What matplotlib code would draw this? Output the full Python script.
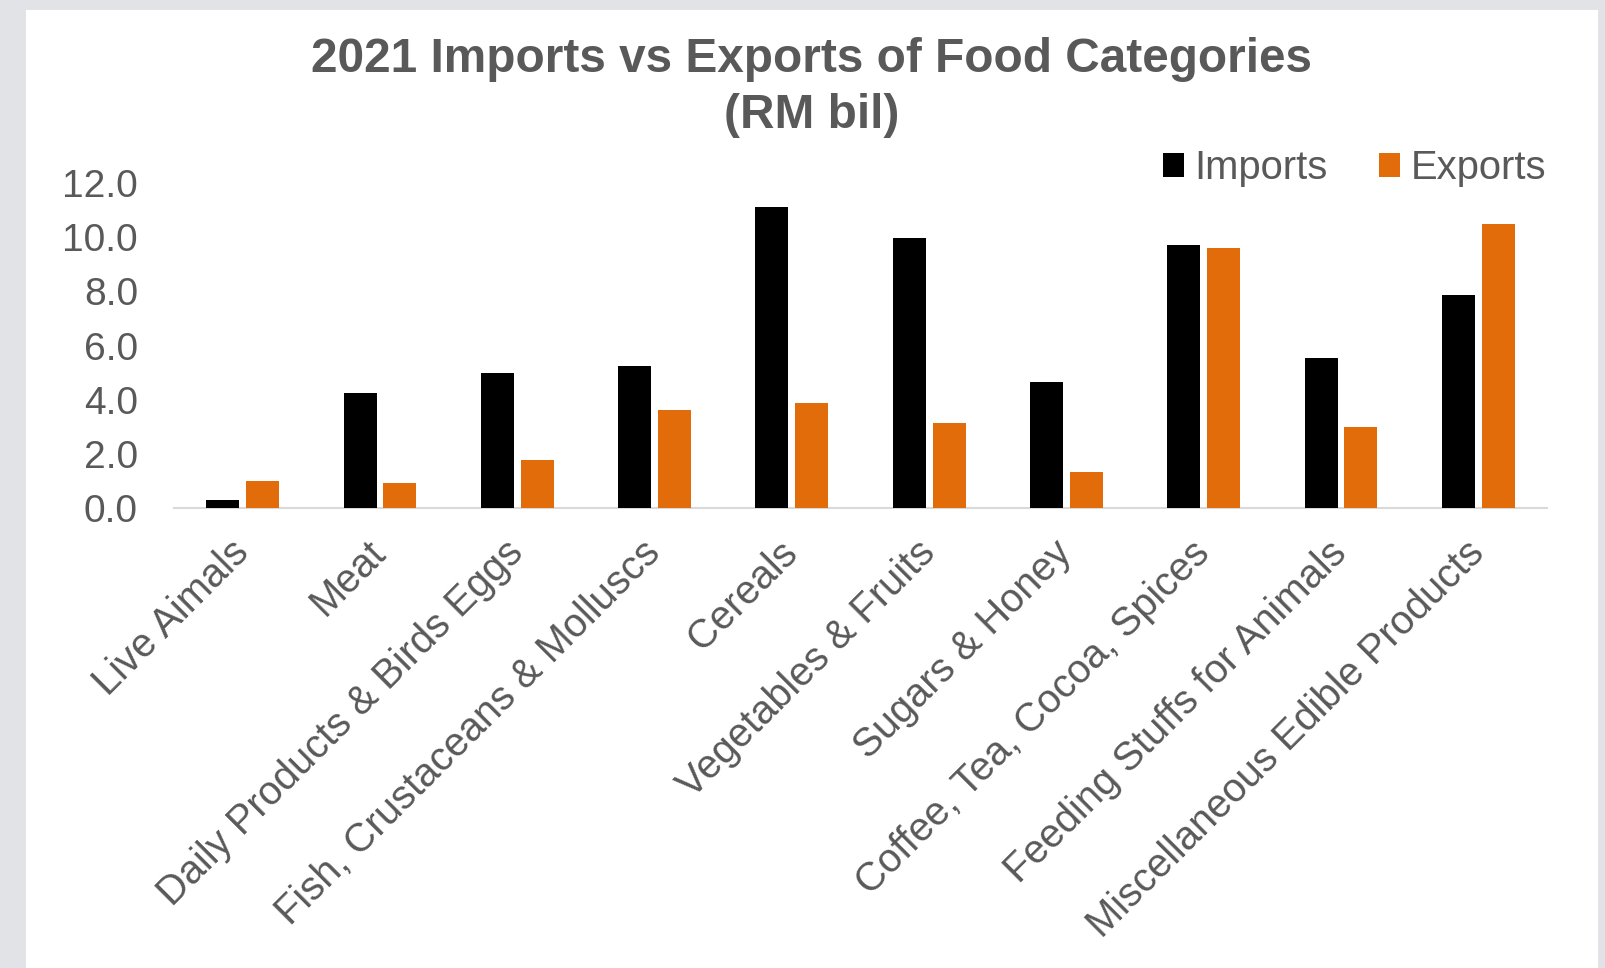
import matplotlib.pyplot as plt
import numpy as np
from matplotlib.patches import Rectangle

categories = ['Live Aimals', 'Meat', 'Daily Products & Birds Eggs',
              'Fish, Crustaceans & Molluscs', 'Cereals', 'Vegetables & Fruits',
              'Sugars & Honey', 'Coffee, Tea, Cocoa, Spices',
              'Feeding Stuffs for Animals', 'Miscellaneous Edible Products']
imports = [0.3, 4.25, 5.0, 5.25, 11.13, 9.96, 4.64, 9.71, 5.54, 7.87]
exports = [0.98, 0.92, 1.78, 3.63, 3.88, 3.14, 1.34, 9.6, 3.0, 10.5]
y_ticks = [0.0, 2.0, 4.0, 6.0, 8.0, 10.0, 12.0]

plt.rcParams['font.family'] = ['Liberation Sans', 'DejaVu Sans']
grey = '#595959'

fig = plt.figure(figsize=(16.06, 9.68), dpi=100)
fig.patch.set_facecolor('#e1e3e6')
# white chart area inside the grey frame
fig.patches.append(Rectangle((26 / 1606, 0), (1598 - 26) / 1606, 1 - 10 / 968,
                             transform=fig.transFigure, facecolor='white',
                             edgecolor='none', zorder=-10))

ax = fig.add_axes([174 / 1606, 1 - 508 / 968, (1547 - 174) / 1606, (508 - 183) / 968])
ax.set_facecolor('none')

x = np.arange(len(categories))
w = 0.24
ax.bar(x - 0.145, imports, w, color='#000000', label='Imports', zorder=3)
ax.bar(x + 0.145, exports, w, color='#e36c0a', label='Exports', zorder=3)

ax.set_xlim(-0.5, len(categories) - 0.5)
ax.set_ylim(0, 12)
ax.set_yticks(y_ticks)
ax.set_yticklabels([f'{v:.1f}' for v in y_ticks])
ax.set_xticks(x)
ax.set_xticklabels(categories, rotation=45, ha='right', va='center',
                   rotation_mode='anchor')

for s in ['top', 'right', 'left']:
    ax.spines[s].set_visible(False)
ax.spines['bottom'].set_color('#d9d9d9')
ax.spines['bottom'].set_linewidth(1.5)
ax.tick_params(axis='y', length=0, pad=26, labelsize=28, labelcolor=grey)
ax.tick_params(axis='x', length=0, pad=28, labelsize=28.7, labelcolor=grey)

fig.text(812 / 1606, 1 - 59 / 968, '2021 Imports vs Exports of Food Categories',
         ha='center', va='center', fontsize=34.4, fontweight='bold', color=grey)
fig.text(812 / 1606, 1 - 116 / 968, '(RM bil)',
         ha='center', va='center', fontsize=34.4, fontweight='bold', color=grey)

fig.legend(loc='center right', bbox_to_anchor=(1546 / 1606, 1 - 168 / 968),
           ncol=2, frameon=False, fontsize=28.8, labelcolor=grey,
           handlelength=0.53, handleheight=0.53, handletextpad=0.25,
           columnspacing=1.3, borderaxespad=0, borderpad=0)

plt.savefig('out.png', dpi=100)
